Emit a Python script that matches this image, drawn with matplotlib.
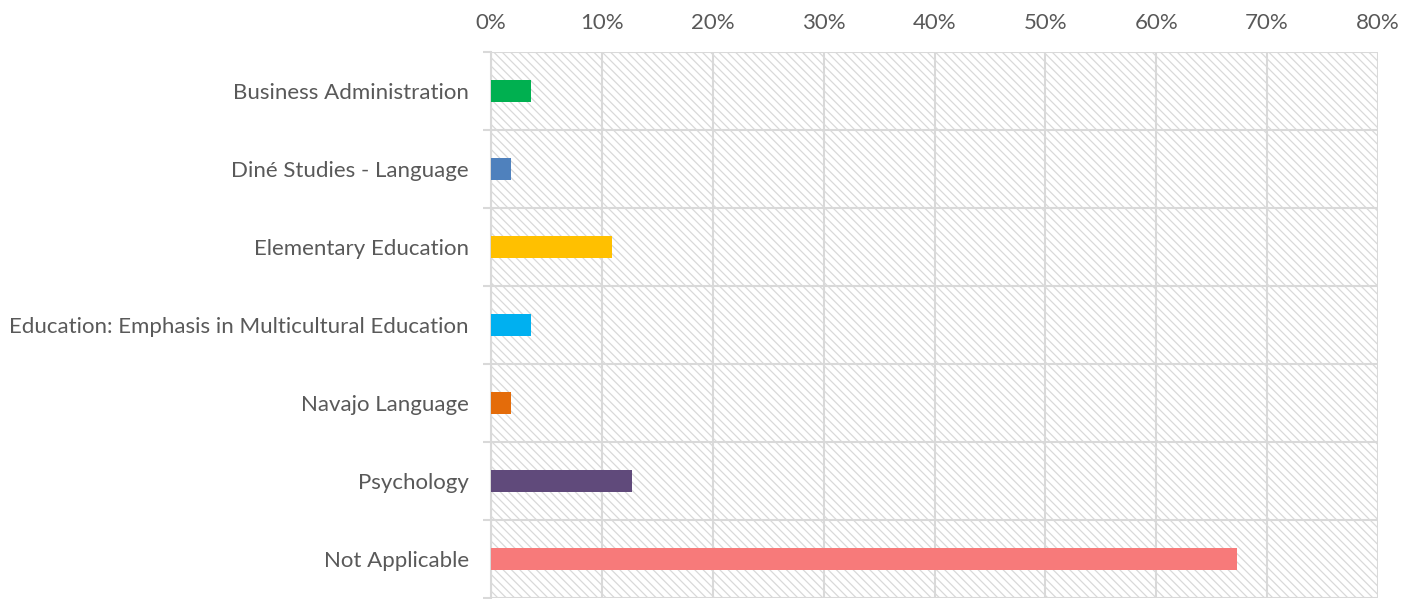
import matplotlib.pyplot as plt
from matplotlib.patches import Rectangle
from matplotlib.ticker import FixedLocator, PercentFormatter

# === DATA ===
programs = [
    "Business Administration",
    "Diné Studies - Language",
    "Elementary Education",
    "Education: Emphasis in Multicultural Education",
    "Navajo Language",
    "Psychology",
    "Not Applicable",
]
shares = [3.6, 1.8, 10.9, 3.6, 1.8, 12.7, 67.3]
bar_colors = ["#00B050", "#4F81BD", "#FFC000", "#00B0F0", "#E46C0A", "#604A7B", "#F77A7A"]
x_ticks = [0, 10, 20, 30, 40, 50, 60, 70, 80]

GRID = "#D9D9D9"
TEXT = "#595959"

plt.rcParams["font.family"] = ["Lato", "DejaVu Sans"]
plt.rcParams["hatch.linewidth"] = 0.9

fig = plt.figure(figsize=(14.16, 5.99), dpi=100)
ax = fig.add_axes([491 / 1416, 1 - 598 / 599, (1378 - 491) / 1416, (598 - 52) / 599])

# hatched plot area background
ax.add_patch(Rectangle((0, 0), 1, 1, transform=ax.transAxes, facecolor="none",
                       edgecolor="#D9D9D9", linewidth=0, hatch="\\\\\\\\", zorder=0))

y = list(range(len(programs)))
ax.barh(y, shares, height=0.29, color=bar_colors, zorder=3)

ax.set_xlim(0, 80)
ax.set_ylim(len(programs) - 0.5, -0.5)

ax.xaxis.tick_top()
ax.set_xticks(x_ticks)
ax.xaxis.set_major_formatter(PercentFormatter(decimals=0))
ax.tick_params(axis="x", length=0, pad=14, labelsize=16, labelcolor=TEXT)

ax.set_yticks(y)
ax.set_yticklabels(programs)
ax.yaxis.set_minor_locator(FixedLocator([i - 0.5 for i in range(len(programs) + 1)]))
ax.tick_params(axis="y", which="major", length=0, pad=16, labelsize=16, labelcolor=TEXT)
ax.tick_params(axis="y", which="minor", length=6, width=1.5, color=GRID)

ax.grid(axis="x", which="major", color=GRID, linewidth=1.5, zorder=1)
ax.grid(axis="y", which="minor", color=GRID, linewidth=1.5, zorder=1)
ax.set_axisbelow(True)

for name, spine in ax.spines.items():
    spine.set_visible(name == "left")
ax.spines["left"].set_color(GRID)
ax.spines["left"].set_linewidth(1.5)

fig.savefig("out.png", dpi=100)
